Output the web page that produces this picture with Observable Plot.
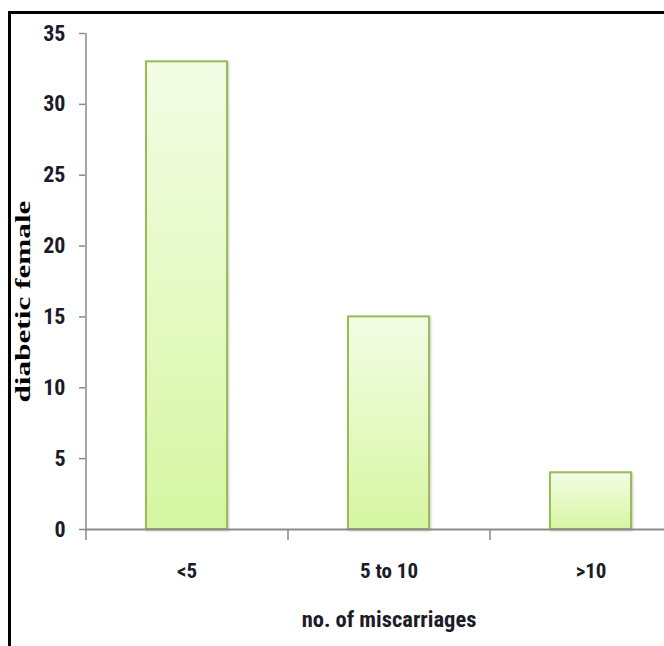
<!DOCTYPE html>
<html>
<head>
<meta charset="utf-8">
<script src="https://cdn.jsdelivr.net/npm/d3@7"></script>
<script src="https://cdn.jsdelivr.net/npm/@observablehq/plot@0.6"></script>
<style>
  html, body { margin: 0; padding: 0; background: #fff; }
  #wrap { position: relative; width: 664px; height: 646px; overflow: hidden; }
  #border { position: absolute; left: 8px; top: 11px; width: 800px; height: 800px;
            border-top: 3px solid #000; border-left: 3px solid #000; pointer-events: none; }
  g[aria-label="bar"] rect { filter: drop-shadow(1.5px 1.5px 1px rgba(0,0,0,0.22)); }
</style>
</head>
<body>
<div id="wrap"><div id="border"></div></div>
<script>
const categories = ["<5", "5 to 10", ">10"];
const values = [33, 15, 4];
const yTicks = [0, 5, 10, 15, 20, 25, 30, 35];
const xTitle = "no. of miscarriages";
const yTitle = "diabetic female";

const data = categories.map((c, i) => ({category: c, value: values[i]}));

const W = 664, H = 646, ML = 85, MT = 33, MB = 117;
const step = 202;
const tickFont = "'Liberation Sans Narrow', 'Arial Narrow', 'Roboto Condensed', sans-serif";

const chart = Plot.plot({
  width: W,
  height: H,
  marginLeft: ML,
  marginRight: 0,
  marginTop: MT,
  marginBottom: MB,
  style: {background: "transparent", overflow: "visible", fontFamily: tickFont},
  x: {type: "band", domain: categories, range: [ML, ML + 3 * step], paddingInner: 0.6, paddingOuter: 0.3, axis: null},
  y: {domain: [0, 35], axis: null},
  marks: [
    // y axis line
    Plot.ruleX([categories[0]], {x: d => d, y1: 0, y2: 35, dx: -step / 2, stroke: "#8a8a8a", strokeWidth: 1.5}),
    // y ticks
    Plot.ruleY(yTicks, {y: d => d, insetLeft: -6, insetRight: W - ML, stroke: "#8a8a8a", strokeWidth: 1.5}),
    // y tick labels
    Plot.text(yTicks, {y: d => d, text: d => String(d), frameAnchor: "left", dx: -20, textAnchor: "end",
      fontSize: 22, fontWeight: "bold", fill: "#1c1c28"}),
    // bars
    Plot.barY(data, {x: "category", y: "value", fill: "url(#barGrad)", stroke: "#9bbb59", strokeWidth: 2}),
    // x axis line
    Plot.ruleY([0], {stroke: "#8a8a8a", strokeWidth: 2}),
    // x ticks at band boundaries
    Plot.ruleX(categories, {x: d => d, y1: 0, y2: 0, dx: -step / 2, insetBottom: -11, stroke: "#8a8a8a", strokeWidth: 1.5}),
    // x tick labels
    Plot.text(categories, {x: d => d, y: 0, text: d => d, dy: 42, fontSize: 21, fontWeight: "bold", fill: "#1c1c28"}),
    // x title
    Plot.text([xTitle], {x: () => categories[1], y: 0, text: d => d, dy: 90, fontSize: 22.5, fontWeight: "bold", fill: "#1c1c28"}),
    // y title
    Plot.text([yTitle], {frameAnchor: "left", text: d => d, rotate: -90, dx: -63, dy: 20, textAnchor: "middle",
      fontFamily: "'Liberation Serif', 'DejaVu Serif', serif", fontSize: 22, fontWeight: "bold", fill: "#000"})
  ]
});

const svg = d3.select(chart);
const defs = svg.insert("defs", ":first-child");
const grad = defs.append("linearGradient").attr("id", "barGrad")
  .attr("x1", 0).attr("y1", 0).attr("x2", 0).attr("y2", 1);
grad.append("stop").attr("offset", "0%").attr("stop-color", "#f3fde5");
grad.append("stop").attr("offset", "100%").attr("stop-color", "#d6f6a2");

// stretch the y title along its length, as in the reference
svg.selectAll("text").filter(function() { return this.textContent === yTitle; })
  .attr("textLength", 202).attr("lengthAdjust", "spacingAndGlyphs");

document.getElementById("wrap").insertBefore(chart, document.getElementById("border"));
</script>
</body>
</html>
